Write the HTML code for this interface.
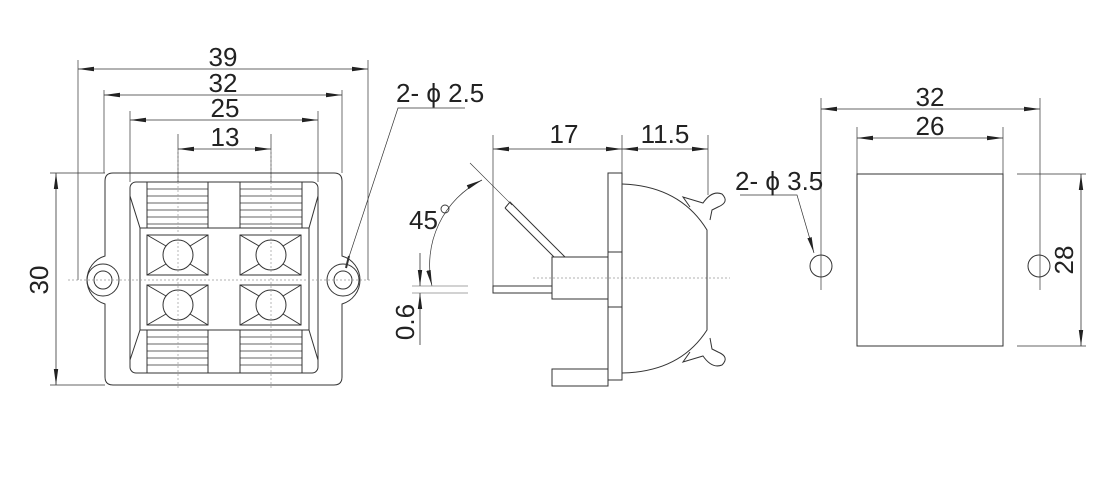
<!DOCTYPE html>
<html><head><meta charset="utf-8"><style>
html,body{margin:0;padding:0;background:#fff;width:1120px;height:488px;overflow:hidden}
svg{display:block}
text{font-family:"Liberation Sans",Arial,sans-serif;fill:#222;font-size:26px}
</style></head><body>
<svg width="1120" height="488" viewBox="0 0 1120 488">
<defs>
<marker id="a" viewBox="0 0 16 6" refX="16" refY="3" markerWidth="16" markerHeight="6" markerUnits="userSpaceOnUse" orient="auto-start-reverse"><path d="M0,0.8 L16,3 L0,5.2z" fill="#222"/></marker>
</defs>
<g stroke="#333" stroke-width="1" fill="none">
<line x1="78" y1="60" x2="78" y2="280" stroke-width="0.7"/>
<line x1="368" y1="60" x2="368" y2="280" stroke-width="0.7"/>
<line x1="104" y1="90" x2="104" y2="173" stroke-width="0.7"/>
<line x1="342" y1="90" x2="342" y2="173" stroke-width="0.7"/>
<line x1="130" y1="111" x2="130" y2="182" stroke-width="0.7"/>
<line x1="318" y1="111" x2="318" y2="182" stroke-width="0.7"/>
<line x1="178" y1="134" x2="178" y2="182" stroke-width="0.7"/>
<line x1="271" y1="134" x2="271" y2="182" stroke-width="0.7"/>
<line x1="78" y1="69" x2="368" y2="69" marker-start="url(#a)" marker-end="url(#a)" stroke-width="0.8"/>
<line x1="104" y1="95" x2="342" y2="95" marker-start="url(#a)" marker-end="url(#a)" stroke-width="0.8"/>
<line x1="130" y1="120" x2="318" y2="120" marker-start="url(#a)" marker-end="url(#a)" stroke-width="0.8"/>
<line x1="178" y1="149" x2="271" y2="149" marker-start="url(#a)" marker-end="url(#a)" stroke-width="0.8"/>
<line x1="50" y1="173" x2="105" y2="173" stroke-width="0.7"/>
<line x1="50" y1="385" x2="105" y2="385" stroke-width="0.7"/>
<line x1="56" y1="173" x2="56" y2="385" marker-start="url(#a)" marker-end="url(#a)" stroke-width="0.8"/>
<path d="M113,173 H334 Q342,173 342,181 V256 A25,25 0 0 1 342,304 V377 Q342,385 334,385 H113 Q105,385 105,377 V304 A25,25 0 0 1 105,256 V181 Q105,173 113,173Z"/>
<circle cx="103" cy="280" r="16"/><circle cx="103" cy="280" r="9"/>
<circle cx="343" cy="280" r="16"/><circle cx="343" cy="280" r="9"/>
<rect x="130" y="182" width="188" height="191" rx="6"/>
<line x1="130" y1="196" x2="140" y2="228"/><line x1="318" y1="196" x2="309" y2="228"/>
<line x1="130" y1="360" x2="140" y2="330"/><line x1="318" y1="360" x2="309" y2="330"/>
<rect x="140" y="228" width="169" height="102"/>
<rect x="147" y="182" width="61" height="46"/><rect x="240" y="182" width="62" height="46"/>
<rect x="147" y="330" width="61" height="43"/><rect x="240" y="330" width="62" height="43"/>
<g stroke-width="0.8">
<path d="M147,189H208M147,196H208M147,203H208M147,210H208M147,217H208M147,224H208"/>
<path d="M240,189H302M240,196H302M240,203H302M240,210H302M240,217H302M240,224H302"/>
<path d="M147,337H208M147,344H208M147,351H208M147,358H208M147,365H208"/>
<path d="M240,337H302M240,344H302M240,351H302M240,358H302M240,365H302"/>
</g>
<g id="t">
<rect x="147" y="235" width="61" height="40"/>
<circle cx="178" cy="255" r="15"/>
<path d="M147,235L166,246M208,235L190,246M147,275L166,264M208,275L190,264"/>
</g>
<use href="#t" x="93"/><use href="#t" y="50"/><use href="#t" x="93" y="50"/>
<g stroke="#999" stroke-width="0.7" stroke-dasharray="2,2">
<line x1="68" y1="280" x2="372" y2="280"/>
<line x1="178" y1="150" x2="178" y2="390"/><line x1="271" y1="150" x2="271" y2="390"/>
<line x1="533" y1="278" x2="730" y2="278"/>
</g>
<polyline points="346,266 398,108 465,108" stroke-width="0.7"/>
<line x1="349" y1="256" x2="346" y2="268" stroke-width="2"/>
<line x1="493" y1="135" x2="493" y2="286" stroke-width="0.7"/>
<line x1="622" y1="135" x2="622" y2="173" stroke-width="0.7"/>
<line x1="708" y1="135" x2="708" y2="195" stroke-width="0.7"/>
<line x1="493" y1="149" x2="622" y2="149" marker-start="url(#a)" marker-end="url(#a)" stroke-width="0.8"/>
<line x1="622" y1="149" x2="708" y2="149" marker-start="url(#a)" marker-end="url(#a)" stroke-width="0.8"/>
<rect x="608" y="173" width="14" height="207"/>
<line x1="608" y1="252" x2="622" y2="252"/><line x1="608" y1="307" x2="622" y2="307"/>
<rect x="552" y="257" width="56" height="42"/>
<rect x="493" y="286" width="59" height="7"/>
<rect x="552" y="369" width="56" height="17"/>
<path d="M505,208 L510,202 L565,257 M505,208 L554,257"/>
<line x1="470" y1="163" x2="512" y2="205" stroke-width="0.6"/>
<path d="M622,184 Q680,186 707,230 V330 Q680,372 622,373"/>
<path d="M690,207 L683,197 L703,203 Q712,190 722,194 Q730,202 718,207 L712,210 L710,220"/>
<path d="M690,352 L683,362 L703,356 Q712,369 722,365 Q730,357 718,352 L712,349 L710,338"/>
<path d="M482,180 A95,95 0 0 0 432,286" stroke-width="0.7" marker-start="url(#a)" marker-end="url(#a)"/>
<line x1="412" y1="286" x2="468" y2="286" stroke="#888" stroke-width="0.8"/>
<line x1="412" y1="293" x2="468" y2="293" stroke="#888" stroke-width="0.8"/>
<line x1="420" y1="253" x2="420" y2="286" marker-end="url(#a)" stroke-width="0.8"/>
<line x1="420" y1="345" x2="420" y2="293" marker-end="url(#a)" stroke-width="0.8"/>
<circle cx="445" cy="209" r="4" stroke-width="0.9"/>
<line x1="821" y1="98" x2="821" y2="290" stroke-width="0.7"/>
<line x1="1040" y1="98" x2="1040" y2="290" stroke-width="0.7"/>
<line x1="857" y1="127" x2="857" y2="174" stroke-width="0.7"/>
<line x1="1003" y1="127" x2="1003" y2="174" stroke-width="0.7"/>
<line x1="821" y1="109" x2="1040" y2="109" marker-start="url(#a)" marker-end="url(#a)" stroke-width="0.8"/>
<line x1="857" y1="138" x2="1003" y2="138" marker-start="url(#a)" marker-end="url(#a)" stroke-width="0.8"/>
<rect x="857" y="174" width="146" height="172"/>
<circle cx="821" cy="266" r="11"/><circle cx="1039" cy="266" r="11"/>
<line x1="1017" y1="174" x2="1086" y2="174" stroke-width="0.7"/>
<line x1="1017" y1="346" x2="1086" y2="346" stroke-width="0.7"/>
<line x1="1081" y1="174" x2="1081" y2="346" marker-start="url(#a)" marker-end="url(#a)" stroke-width="0.8"/>
<polyline points="740,195 797,195 814,253" stroke-width="0.7" marker-end="url(#a)"/>
</g>
<text x="223" y="66" text-anchor="middle">39</text>
<text x="223" y="92" text-anchor="middle">32</text>
<text x="225" y="117" text-anchor="middle">25</text>
<text x="225" y="146" text-anchor="middle">13</text>
<text transform="translate(48,280) rotate(-90)" text-anchor="middle">30</text>
<text x="396" y="102">2- ϕ 2.5</text>
<text x="564" y="143" text-anchor="middle">17</text>
<text x="665" y="143" text-anchor="middle">11.5</text>
<text x="409" y="229">45</text>
<text transform="translate(414,322) rotate(-90)" text-anchor="middle">0.6</text>
<text x="930" y="106" text-anchor="middle">32</text>
<text x="930" y="135" text-anchor="middle">26</text>
<text x="735" y="190">2- ϕ 3.5</text>
<text transform="translate(1073,260) rotate(-90)" text-anchor="middle">28</text>
</svg>
</body></html>
